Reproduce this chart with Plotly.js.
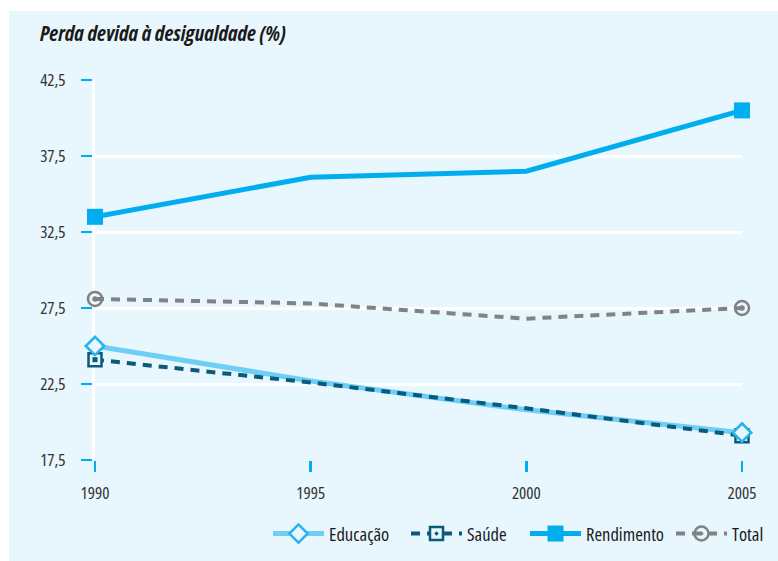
<!DOCTYPE html>
<html>
<head>
<meta charset="utf-8">
<script src="https://cdn.plot.ly/plotly-3.0.1.min.js"></script>
<style>
  html, body { margin: 0; padding: 0; background: #ffffff; }
  #chart { width: 778px; height: 561px; }
  /* narrow cuts of Open Sans */
  #chart text { font-stretch: 80% !important; }
  #chart .xtick text, #chart .ytick text { font-stretch: 87% !important; }
</style>
</head>
<body>
<div id="chart"></div>
<script>
// Perda devida à desigualdade, por componente (%)
const years = [1990, 1995, 2000, 2005];
const educacao = [25.0, 22.7, 20.8, 19.3];
const saude = [24.1, 22.6, 20.9, 19.1];
const rendimento = [33.5, 36.1, 36.5, 40.5];
const total = [28.1, 27.8, 26.8, 27.5];
const yTicks = [17.5, 22.5, 27.5, 32.5, 37.5, 42.5];
const xTicks = [1990, 1995, 2000, 2005];

const FONT = '"Open Sans", "Noto Sans", sans-serif';
const PANEL = '#e8f6fd';
const CYAN = '#00aeef';
const TEAL = '#0b5a7c';
const GREY = '#808285';
const NONE = 'rgba(0,0,0,0)';

// markers only at the first and last year
const ends = (c) => years.map((_, i) => (i === 0 || i === years.length - 1) ? c : NONE);

const eduMarker = {
  symbol: 'diamond', size: 14, color: ends(PANEL),
  line: { color: ends('#29b4ec'), width: 2.5 }
};

const traces = [
  {
    name: 'Educação', x: years, y: educacao, mode: 'lines+markers',
    line: { color: '#6dcff6', width: 5 },
    marker: eduMarker, legend: 'legend',
    legendgroup: 'edu', cliponaxis: false
  },
  {
    name: 'Saúde', x: years, y: saude, mode: 'lines+markers',
    line: { color: TEAL, width: 4, dash: '9px,7px' },
    marker: { symbol: 'square-dot', size: 13, color: ends(PANEL), line: { color: ends(TEAL), width: 2.5 } },
    legend: 'legend2', legendgroup: 'sau', cliponaxis: false
  },
  {
    // solid centre of the Saúde squares
    name: 'Saúde', x: years, y: saude, mode: 'markers', showlegend: false,
    marker: { symbol: 'square', size: 5, color: ends(TEAL) },
    legendgroup: 'sau', cliponaxis: false, hoverinfo: 'skip'
  },
  {
    name: 'Rendimento', x: years, y: rendimento, mode: 'lines+markers',
    line: { color: CYAN, width: 5 },
    marker: { symbol: 'square', size: 16, color: ends(CYAN) },
    legend: 'legend3', cliponaxis: false
  },
  {
    name: 'Total', x: years, y: total, mode: 'lines+markers',
    line: { color: GREY, width: 4, dash: '9px,7px' },
    marker: { symbol: 'circle-open-dot', size: 14, color: ends(GREY), line: { width: 2.5 } },
    legend: 'legend4', legendgroup: 'tot', cliponaxis: false
  },
  {
    // solid centre of the Total rings
    name: 'Total', x: years, y: total, mode: 'markers', showlegend: false,
    marker: { symbol: 'circle', size: 5.5, color: ends(GREY) },
    legendgroup: 'tot', cliponaxis: false, hoverinfo: 'skip'
  },
  {
    // diamonds drawn again above the Saúde squares
    name: 'Educação', x: years, y: educacao, mode: 'markers', showlegend: false,
    marker: eduMarker, legendgroup: 'edu', cliponaxis: false, hoverinfo: 'skip'
  }
];

const W = 778, H = 561;
const L = 95, R = 36, T = 80, B = 101;
const pw = W - L - R, ph = H - T - B;

// one legend box per series, left edge given in pixels
const legendAt = (px) => ({
  orientation: 'h', x: (px - L) / pw, xanchor: 'left',
  y: (T + ph - 534) / ph, yanchor: 'middle',
  bgcolor: 'rgba(0,0,0,0)', borderwidth: 0,
  font: { family: FONT, size: 18.5, color: '#1a1a1a' },
  itemwidth: 51
});

const layout = {
  width: W, height: H,
  margin: { l: L, r: R, t: T, b: B, pad: 0, autoexpand: false },
  separators: ',.',
  paper_bgcolor: '#ffffff',
  plot_bgcolor: 'rgba(0,0,0,0)',
  font: { family: FONT, size: 17, color: '#333333' },
  title: {
    text: '<b><i>Perda devida à desigualdade (%)</i></b>',
    font: { family: FONT, size: 21, color: '#1a1a1a' },
    x: 40 / W, xanchor: 'left', xref: 'container',
    y: 1 - 34 / H, yanchor: 'middle', yref: 'container'
  },
  xaxis: {
    range: [1990, 2005], tickvals: xTicks, ticktext: xTicks.map(String),
    showgrid: false, zeroline: false, showline: false,
    ticks: 'outside', ticklen: 11, tickwidth: 2.5, tickcolor: CYAN,
    ticklabelstandoff: 7,
    tickfont: { family: FONT, size: 17, color: '#333333' }
  },
  yaxis: {
    range: [17.5, 42.5], tickvals: yTicks, tickformat: '.1f',
    showgrid: true, gridcolor: '#ffffff', gridwidth: 3,
    zeroline: false, showline: true, linecolor: '#ffffff', linewidth: 3,
    layer: 'below traces',
    ticks: 'outside', ticklen: 11, tickwidth: 2.5, tickcolor: CYAN,
    ticklabelstandoff: 12,
    tickfont: { family: FONT, size: 17, color: '#333333' }
  },
  showlegend: true,
  legend: legendAt(268),
  legend2: legendAt(406),
  legend3: legendAt(525),
  legend4: legendAt(671),
  shapes: [{
    type: 'rect', xref: 'paper', yref: 'paper', layer: 'below',
    x0: (9 - L) / pw, x1: (W - L) / pw,
    y0: (T + ph - H) / ph, y1: (T + ph - 11) / ph,
    fillcolor: PANEL, line: { width: 0 }
  }]
};

Plotly.newPlot('chart', traces, layout, { displayModeBar: false, staticPlot: true });
</script>
</body>
</html>
